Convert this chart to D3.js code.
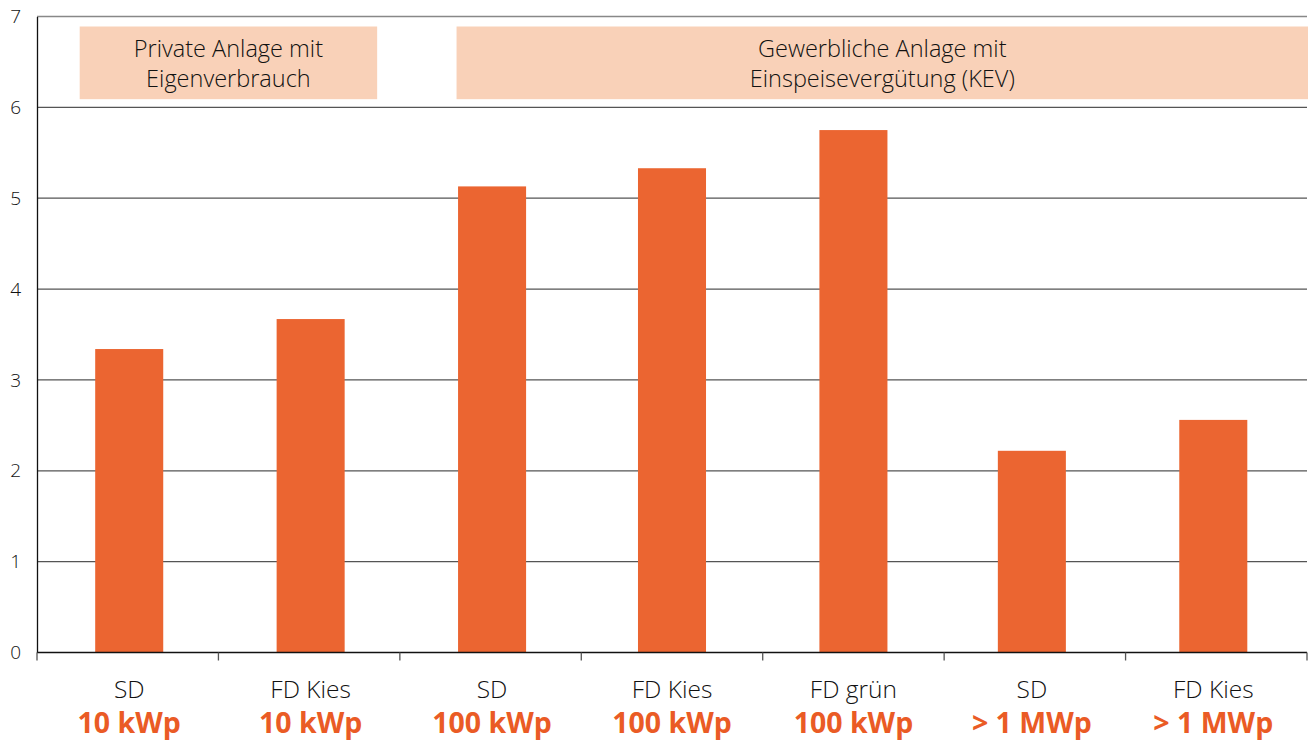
<!DOCTYPE html>
<html><head><meta charset="utf-8">
<script src="https://cdn.jsdelivr.net/npm/d3@7"></script>
<style>body{margin:0;background:#fff}svg{display:block}text{font-family:"Open Sans",sans-serif}</style>
</head><body><svg id="c" width="1309" height="740"></svg>
<script>
const categories = ["SD","FD Kies","SD","FD Kies","FD grün","SD","FD Kies"];
const sizes = ["10 kWp","10 kWp","100 kWp","100 kWp","100 kWp","> 1 MWp","> 1 MWp"];
const values = [3.34,3.67,5.13,5.33,5.75,2.22,2.56];
const yTicks = [0,1,2,3,4,5,6,7];
const groupLabels = [["Private Anlage mit","Eigenverbrauch"],["Gewerbliche Anlage mit","Einspeisevergütung (KEV)"]];
const groupStart = [0,2];
const groupEnd = [1,6];

const svg = d3.select("#c");
const m = {l:37, r:2, t:16.5, b:87.5};
const W = 1309, H = 740;
const x = d3.scaleBand().domain(d3.range(categories.length)).range([m.l, W - m.r]).padding(0);
const y = d3.scaleLinear().domain([0,7]).range([H - m.b, m.t]);
const nudge = i => (i<3?1.5:(i<5?0:-3));

// gridlines
svg.append("g").selectAll("line").data(yTicks.filter(d=>d>0)).join("line")
  .attr("x1", m.l).attr("x2", W - m.r)
  .attr("y1", d=>y(d)).attr("y2", d=>y(d))
  .attr("stroke", d=> d===7 ? "#888" : "#555").attr("stroke-width", 1.3);

// group boxes
const bw = x.bandwidth()*0.375;
groupLabels.forEach((lines,i)=>{
  const x0 = i===0 ? x(groupStart[i]) + x.bandwidth()/2 - bw/2 - 14 : x(groupStart[i]) + x.bandwidth()/2 - bw/2;
  const x1 = i===0 ? x(groupEnd[i]) + x.bandwidth()/2 + bw/2 + 34 : W - 1;
  svg.append("rect").attr("x", x0).attr("y", y(6.89)).attr("width", x1-x0).attr("height", y(6.09)-y(6.89)).attr("fill", "#F9D1B8");
  const cx = (x0+x1)/2;
  lines.forEach((t,j)=>{
    svg.append("text").attr("x", cx).attr("y", 57 + j*30).attr("text-anchor","middle")
      .attr("font-size", 23.5).attr("fill","#111").attr("font-weight",300).text(t);
  });
});

// bars
svg.append("g").selectAll("rect").data(values).join("rect")
  .attr("x", (d,i)=> x(i) + x.bandwidth()/2 - bw/2 + nudge(i))
  .attr("width", bw)
  .attr("y", d=>y(d)).attr("height", d=>y(0)-y(d))
  .attr("fill", "#EB6531");

// y axis
const ya = svg.append("g").attr("transform", `translate(${m.l},0)`)
  .call(d3.axisLeft(y).tickValues(yTicks).tickSize(0).tickPadding(16).tickFormat(d3.format("d")));
ya.select(".domain").attr("stroke","#111").attr("stroke-width",1.3);
ya.selectAll("text").attr("font-size",19).attr("fill","#111").attr("font-family","Open Sans").attr("font-weight",300);

// x axis
const xa = svg.append("g").attr("transform", `translate(0,${y(0)})`);
xa.append("line").attr("x1", m.l).attr("x2", W - m.r).attr("stroke","#111").attr("stroke-width",1.3);
xa.selectAll(".tk").data(d3.range(categories.length+1)).join("line").attr("class","tk")
  .attr("x1", i=> i<categories.length ? x(i) : x(categories.length-1)+x.bandwidth())
  .attr("x2", i=> i<categories.length ? x(i) : x(categories.length-1)+x.bandwidth())
  .attr("y1",0).attr("y2",8).attr("stroke","#555").attr("stroke-width",1.3);
xa.selectAll(".c1").data(categories).join("text").attr("class","c1")
  .attr("x",(d,i)=>x(i)+x.bandwidth()/2 + nudge(i)).attr("y",45).attr("text-anchor","middle")
  .attr("font-size",24.5).attr("fill","#111").attr("font-weight",300).text(d=>d);
xa.selectAll(".c2").data(sizes).join("text").attr("class","c2")
  .attr("x",(d,i)=>x(i)+x.bandwidth()/2 + nudge(i)).attr("y",80).attr("text-anchor","middle")
  .attr("font-size",28.5).attr("font-weight",700).attr("fill","#EA5B25").text(d=>d);
</script></body></html>
